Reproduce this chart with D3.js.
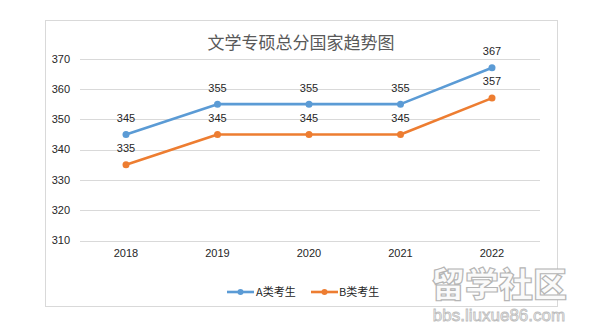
<!DOCTYPE html>
<html><head><meta charset="utf-8">
<script src="https://cdn.jsdelivr.net/npm/d3@7"></script>
<style>body{margin:0;background:#fff;}svg{display:block;}</style>
</head><body>
<svg id="c" width="589" height="332"></svg>
<script>
const years = ["2018","2019","2020","2021","2022"];
const seriesA = [345,355,355,355,367];
const seriesB = [335,345,345,345,357];
const yTicks = [310,320,330,340,350,360,370];
const seriesNames = ["A类考生","B类考生"];
const title = "文学专硕总分国家趋势图";

const svg = d3.select("#c");
const colors = ["#5B9BD5","#ED7D31"];
const font = "Liberation Sans, Arial, sans-serif";

svg.append("rect").attr("x",45.5).attr("y",20.5).attr("width",512).attr("height",286)
  .attr("fill","#fff").attr("stroke","#d9d9d9");

const x = d3.scalePoint().domain(years).range([126,492]);
const y = d3.scaleLinear().domain([310,370]).range([240.5,58.7]);

const grid = svg.append("g");
yTicks.forEach(t=>{
  grid.append("line").attr("x1",80).attr("x2",540).attr("y1",Math.round(y(t))+0.5).attr("y2",Math.round(y(t))+0.5)
    .attr("stroke","#d9d9d9").attr("stroke-width",1);
  grid.append("text").attr("x",70).attr("y",y(t)).attr("dy","0.35em").attr("text-anchor","end")
    .attr("font-family",font).attr("font-size",11).attr("fill","#262626").text(t);
});
years.forEach(yr=>{
  svg.append("text").attr("x",x(yr)).attr("y",253).attr("dy","0.35em").attr("text-anchor","middle")
    .attr("font-family",font).attr("font-size",11).attr("fill","#262626").text(yr);
});

svg.append("text").attr("x",301).attr("y",43).attr("dy","0.35em").attr("text-anchor","middle")
  .attr("font-family","Noto Sans CJK SC, sans-serif").attr("font-size",17).attr("fill","#595959").text(title);

const line = d3.line().x((d,i)=>x(years[i])).y(d=>y(d));
[seriesA,seriesB].forEach((s,k)=>{
  svg.append("path").datum(s).attr("d",line).attr("fill","none").attr("stroke",colors[k])
    .attr("stroke-width",2.6).attr("stroke-linejoin","round");
  svg.selectAll(null).data(s).enter().append("circle").attr("cx",(d,i)=>x(years[i])).attr("cy",d=>y(d))
    .attr("r",3.5).attr("fill",colors[k]);
  svg.selectAll(null).data(s).enter().append("text").attr("x",(d,i)=>x(years[i])).attr("y",d=>y(d)-16.5)
    .attr("dy","0.35em").attr("text-anchor","middle").attr("font-family",font).attr("font-size",11)
    .attr("fill","#262626").text(d=>d);
});

// legend
const lg = [{x0:227,tx:256},{x0:311,tx:339}];
lg.forEach((l,k)=>{
  svg.append("line").attr("x1",l.x0).attr("x2",l.x0+27).attr("y1",292).attr("y2",292)
    .attr("stroke",colors[k]).attr("stroke-width",2.6);
  svg.append("circle").attr("cx",l.x0+13.5).attr("cy",292).attr("r",3).attr("fill",colors[k]);
  svg.append("text").attr("x",l.tx).attr("y",292).attr("dy","0.35em").attr("font-family","Noto Sans CJK SC, sans-serif")
    .attr("font-size",11).attr("fill","#262626").text(seriesNames[k]);
});

// watermark
svg.append("text").attr("x",499).attr("y",297).attr("text-anchor","middle")
  .attr("font-family","Noto Sans CJK SC, sans-serif").attr("font-weight",900).attr("font-size",34)
  .attr("fill","#fafafa").attr("stroke","#b5b5b5").attr("stroke-width",1.2).text("留学社区");
svg.append("text").attr("x",499).attr("y",321).attr("text-anchor","middle")
  .attr("font-family",font).attr("font-size",17)
  .attr("fill","#f2f2f2").attr("stroke","#bdbdbd").attr("stroke-width",0.8).text("bbs.liuxue86.com");
</script>
</body></html>
